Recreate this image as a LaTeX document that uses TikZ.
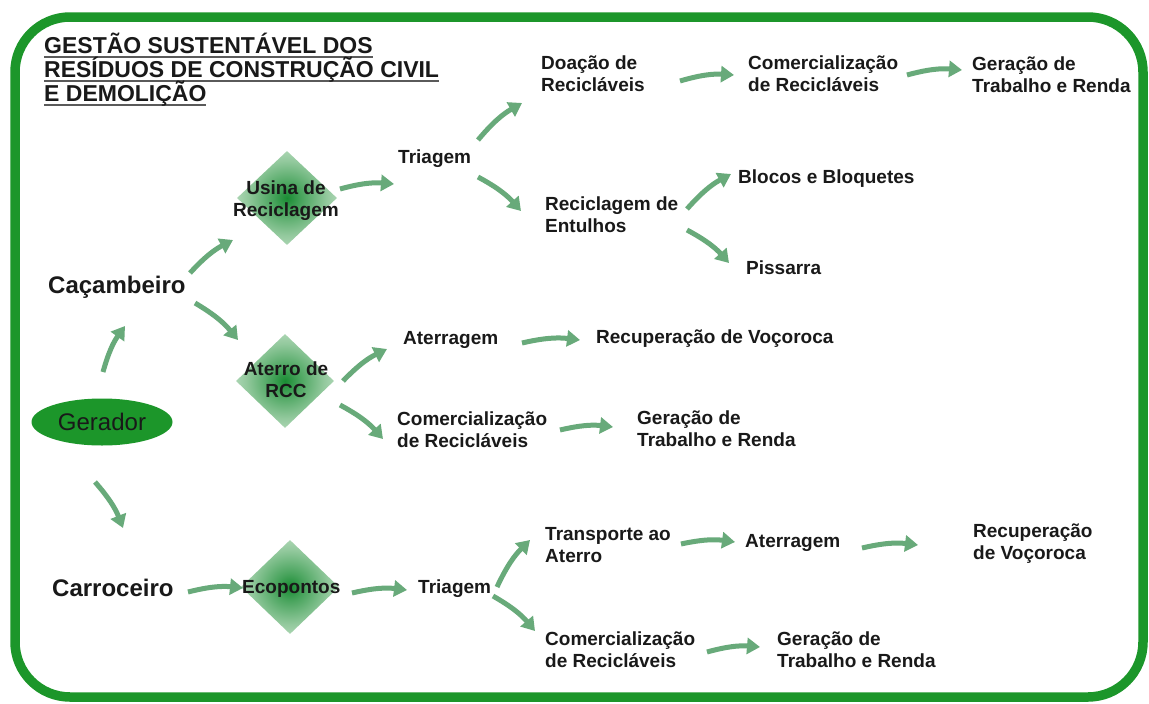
\documentclass[tikz,border=0pt]{standalone}
\usepackage{fontspec}
\setmainfont{Liberation Sans}
\usetikzlibrary{shapes.geometric,arrows.meta}
\definecolor{bordergreen}{RGB}{28,150,42}
\definecolor{arrowgreen}{RGB}{104,170,122}
\definecolor{txt}{RGB}{25,25,25}
\definecolor{ulgray}{RGB}{90,90,90}
\pgfdeclareradialshading{diashade}{\pgfpoint{0bp}{0bp}}{rgb(0bp)=(0.10,0.55,0.20); rgb(7bp)=(0.28,0.64,0.36); rgb(20bp)=(0.58,0.79,0.62); rgb(32bp)=(0.78,0.89,0.80); rgb(42bp)=(0.95,0.98,0.95); rgb(50bp)=(1,1,1)}
\newcommand{\twol}[2]{\begin{tabular}[t]{@{}l@{}}#1\\#2\end{tabular}}
\newcommand{\twoc}[2]{\begin{tabular}[t]{@{}c@{}}#1\\#2\end{tabular}}
\newcommand{\myul}[1]{\sbox0{#1}\rlap{\color{ulgray}\rule[-4.5pt]{\wd0}{1.6pt}}\usebox0}
\tikzset{
  lbl/.style={font=\fontsize{19}{22}\selectfont\bfseries, text=txt, inner sep=0pt, anchor=base west},
  lblc/.style={font=\fontsize{19}{22}\selectfont\bfseries, text=txt, inner sep=0pt, anchor=base},
  big/.style={font=\fontsize{24}{28}\selectfont\bfseries, text=txt, inner sep=0pt, anchor=base west},
  ttl/.style={font=\fontsize{23}{25}\selectfont\bfseries, text=txt, inner sep=0pt, anchor=base west},
  dia/.style={diamond, shape aspect=1, minimum width=#1, minimum height=#1, inner sep=0pt, shading=diashade, shade},
  arr/.style={draw=arrowgreen, line width=5pt, -{Triangle[length=13pt,width=16pt]}},
}
\begin{document}
\begin{tikzpicture}[x=1pt,y=-1pt]
\useasboundingbox (0,0) rectangle (1149,704);
\fill[white] (0,0) rectangle (1149,704);
\draw[bordergreen, line width=9.5pt, rounded corners=55pt] (15,17) rectangle (1143,697);

% title
\node[ttl] (t1) at (44,53) {\myul{GESTÃO SUSTENTÁVEL DOS}};
\node[ttl] (t2) at (44,77) {\myul{RESÍDUOS DE CONSTRUÇÃO CIVIL}};
\node[ttl] (t3) at (44,101) {\myul{E DEMOLIÇÃO}};

% diamonds
\node[dia=100pt, minimum height=94pt] (dusi) at (287,198) {};
\node[dia=98pt, minimum height=94pt] (date) at (285,381) {};
\node[dia=98pt, minimum height=94pt] (deco) at (290,587) {};

% gerador
\node[ellipse, fill=bordergreen, minimum width=141pt, minimum height=47pt, inner sep=0pt,
      font=\fontsize{24}{28}\selectfont, text=txt] (ger) at (102,422) {Gerador};

% labels
\node[big] (cac) at (48,293) {Caçambeiro};
\node[big] (car) at (52,596) {Carroceiro};
\node[lblc] (usi) at (286,194) {\twoc{Usina de}{Reciclagem}};
\node[lblc] (ate) at (286,375) {\twoc{Aterro de}{RCC}};
\node[lbl] (eco) at (242,593) {Ecopontos};
\node[lbl] (tri1) at (398,163) {Triagem};
\node[lbl] (don) at (541,69) {\twol{Doação de}{Recicláveis}};
\node[lbl] (com1) at (748,69) {\twol{Comercialização}{de Recicláveis}};
\node[lbl] (ger1) at (972,70) {\twol{Geração de}{Trabalho e Renda}};
\node[lbl] (rec) at (545,210) {\twol{Reciclagem de}{Entulhos}};
\node[lbl] (blo) at (738,183) {Blocos e Bloquetes};
\node[lbl] (pis) at (746,274) {Pissarra};
\node[lbl] (atg1) at (403,344) {Aterragem};
\node[lbl] (rvo1) at (596,343) {Recuperação de Voçoroca};
\node[lbl] (com2) at (397,425) {\twol{Comercialização}{de Recicláveis}};
\node[lbl] (ger2) at (637,424) {\twol{Geração de}{Trabalho e Renda}};
\node[lbl] (tri2) at (418,593) {Triagem};
\node[lbl] (tra) at (545,540) {\twol{Transporte ao}{Aterro}};
\node[lbl] (atg2) at (745,547) {Aterragem};
\node[lbl] (rvo2) at (973,537) {\twol{Recuperação}{de Voçoroca}};
\node[lbl] (com3) at (545,645) {\twol{Comercialização}{de Recicláveis}};
\node[lbl] (ger3) at (777,645) {\twol{Geração de}{Trabalho e Renda}};

% arrow end points
\coordinate (a1s) at (103,372);  \coordinate (a1e) at (125,326);
\coordinate (a2s) at (95,482);   \coordinate (a2e) at (123,528);
\coordinate (a3s) at (190,273);  \coordinate (a3e) at (233,240);
\coordinate (a4s) at (195,303);  \coordinate (a4e) at (238,340);
\coordinate (a5s) at (340,189);  \coordinate (a5e) at (394,184);
\coordinate (a6s) at (478,140);  \coordinate (a6e) at (522,103);
\coordinate (a7s) at (478,177);  \coordinate (a7e) at (521,211);
\coordinate (a8s) at (680,81);   \coordinate (a8e) at (734,75);
\coordinate (a9s) at (907,75);   \coordinate (a9e) at (962,70);
\coordinate (a10s) at (687,209); \coordinate (a10e) at (731,174);
\coordinate (a11s) at (687,230); \coordinate (a11e) at (729,263);
\coordinate (a12s) at (343,381); \coordinate (a12e) at (387,349);
\coordinate (a13s) at (340,405); \coordinate (a13e) at (383,439);
\coordinate (a14s) at (522,343); \coordinate (a14e) at (580,340);
\coordinate (a15s) at (560,430); \coordinate (a15e) at (613,427);
\coordinate (a16s) at (188,592); \coordinate (a16e) at (243,588);
\coordinate (a17s) at (352,593); \coordinate (a17e) at (407,590);
\coordinate (a18s) at (497,587); \coordinate (a18e) at (530,540);
\coordinate (a19s) at (493,596); \coordinate (a19e) at (535,631);
\coordinate (a20s) at (681,544); \coordinate (a20e) at (735,542);
\coordinate (a21s) at (862,548); \coordinate (a21e) at (918,545);
\coordinate (a22s) at (707,652); \coordinate (a22e) at (760,647);

\foreach \i in {1,...,22} {
  \draw[arr] (a\i s) to[bend left=10] (a\i e);
}
\end{tikzpicture}
\end{document}
